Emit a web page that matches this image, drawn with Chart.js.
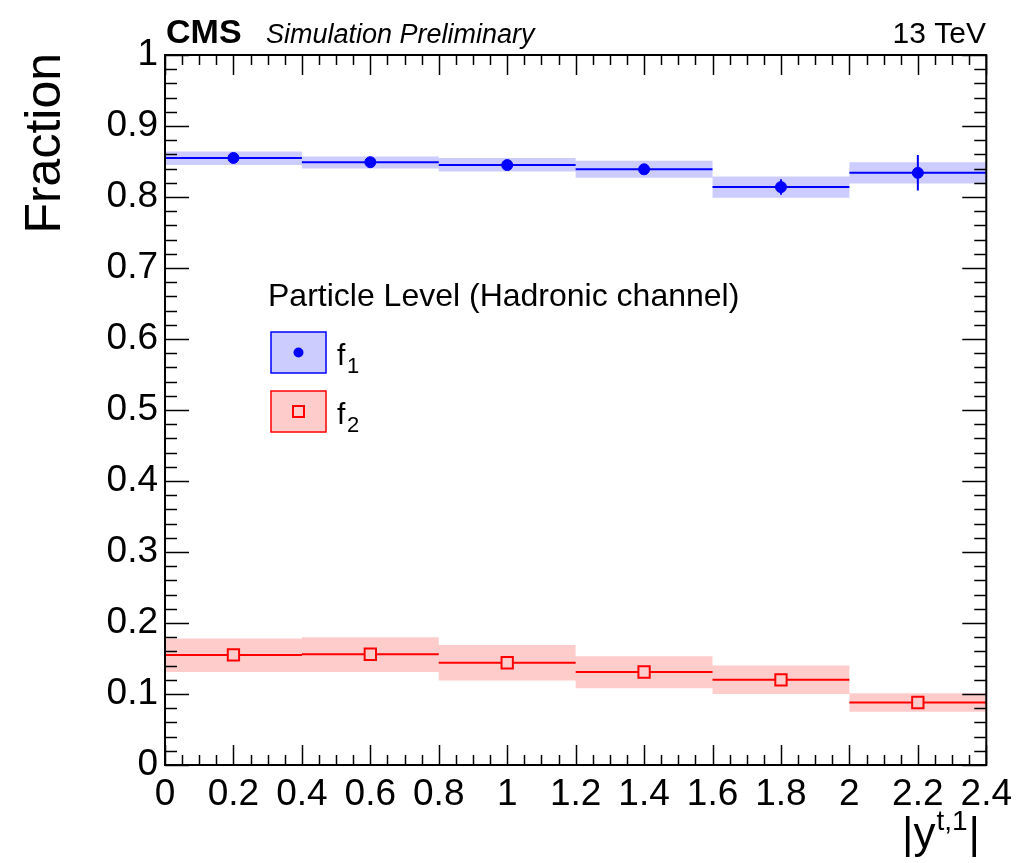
<!DOCTYPE html>
<html><head><meta charset="utf-8">
<script src="https://cdn.jsdelivr.net/npm/chart.js@4/dist/chart.umd.min.js"></script>
<style>html,body{margin:0;padding:0;background:#fff}#wrap{width:1020px;height:863px}</style>
</head><body><div id="wrap"><canvas id="c" width="1020" height="863"></canvas></div>
<script>
// ---- data ----
const binEdges   = [0, 0.4, 0.8, 1.2, 1.6, 2.0, 2.4];
const binCenters = [0.2, 0.6, 1.0, 1.4, 1.8, 2.2];
const f1Values   = [0.855, 0.849, 0.845, 0.839, 0.814, 0.834];
const f1StatLow  = [0.852, 0.846, 0.842, 0.836, 0.803, 0.809];
const f1StatHigh = [0.858, 0.852, 0.848, 0.842, 0.825, 0.859];
const f1BandLow  = [0.845, 0.840, 0.836, 0.827, 0.799, 0.819];
const f1BandHigh = [0.864, 0.857, 0.855, 0.851, 0.829, 0.849];
const f2Values   = [0.155, 0.156, 0.144, 0.131, 0.120, 0.088];
const f2StatLow  = [0.152, 0.153, 0.141, 0.128, 0.117, 0.085];
const f2StatHigh = [0.158, 0.159, 0.147, 0.134, 0.123, 0.091];
const f2BandLow  = [0.131, 0.131, 0.119, 0.108, 0.100, 0.075];
const f2BandHigh = [0.178, 0.180, 0.169, 0.153, 0.140, 0.101];
const xTickValues = [0, 0.2, 0.4, 0.6, 0.8, 1.0, 1.2, 1.4, 1.6, 1.8, 2.0, 2.2, 2.4];
const xTickLabels = ["0","0.2","0.4","0.6","0.8","1","1.2","1.4","1.6","1.8","2","2.2","2.4"];
const yTickValues = [0, 0.1, 0.2, 0.3, 0.4, 0.5, 0.6, 0.7, 0.8, 0.9, 1.0];
const yTickLabels = ["0","0.1","0.2","0.3","0.4","0.5","0.6","0.7","0.8","0.9","1"];
const seriesNames = ["f1", "f2"];

// ---- helpers building library data from arrays ----
function stepBand(vals){ const d=[]; vals.forEach((v,i)=>{ d.push({x:binEdges[i],y:v},{x:binEdges[i+1],y:v}); }); return d; }
function hSegs(vals){ const d=[]; vals.forEach((v,i)=>{ d.push({x:binEdges[i],y:v},{x:binEdges[i+1],y:v},{x:binEdges[i+1],y:null}); }); return d; }
function vSegs(lo,hi){ const d=[]; lo.forEach((v,i)=>{ d.push({x:binCenters[i],y:v},{x:binCenters[i],y:hi[i]},{x:binCenters[i],y:null}); }); return d; }
function pts(vals){ return vals.map((v,i)=>({x:binCenters[i], y:v})); }

const BLUE='#0000ff', RED='#ff0000', BLUEF='rgba(0,0,255,0.2)', REDF='rgba(255,0,0,0.2)';
const FONT='"Liberation Sans", Arial, Helvetica, sans-serif';

const datasets = [
  {label:'f1 band hi', data:stepBand(f1BandHigh), borderWidth:0, pointRadius:0, fill:false, order:5},
  {label:'f1 band lo', data:stepBand(f1BandLow), borderWidth:0, pointRadius:0, fill:'-1', backgroundColor:BLUEF, order:5},
  {label:'f2 band hi', data:stepBand(f2BandHigh), borderWidth:0, pointRadius:0, fill:false, order:5},
  {label:'f2 band lo', data:stepBand(f2BandLow), borderWidth:0, pointRadius:0, fill:'-1', backgroundColor:REDF, order:5},
  {label:'f1 xerr', data:hSegs(f1Values), borderColor:BLUE, borderWidth:2, pointRadius:0, spanGaps:false, fill:false, order:3},
  {label:'f1 yerr', data:vSegs(f1StatLow,f1StatHigh), borderColor:BLUE, borderWidth:2, pointRadius:0, spanGaps:false, fill:false, order:3},
  {label:'f2 xerr', data:hSegs(f2Values), borderColor:RED, borderWidth:2, pointRadius:0, spanGaps:false, fill:false, order:3},
  {label:'f2 yerr', data:vSegs(f2StatLow,f2StatHigh), borderColor:RED, borderWidth:2, pointRadius:0, spanGaps:false, fill:false, order:3},
  {label:seriesNames[0], data:pts(f1Values), showLine:false, pointStyle:'circle', pointRadius:5.5, pointBackgroundColor:BLUE, pointBorderColor:BLUE, pointBorderWidth:1, order:1},
  {label:seriesNames[1], data:pts(f2Values), showLine:false, pointStyle:'rect', pointRadius:8, pointBackgroundColor:'#ffcccc', pointBorderColor:RED, pointBorderWidth:2, order:1}
];

const decor = {
  id:'decor',
  afterDatasetsDraw(chart){
    const ctx=chart.ctx, a=chart.chartArea, xs=chart.scales.x, ys=chart.scales.y;
    ctx.save();
    ctx.strokeStyle='#000'; ctx.lineWidth=1.5;
    ctx.beginPath();
    for(let k=0;k<=48;k++){
      const v=k*0.05, px=Math.round(xs.getPixelForValue(v))+0.5;
      const L=(k%4===0)?20:10;
      ctx.moveTo(px,a.bottom); ctx.lineTo(px,a.bottom-L);
      ctx.moveTo(px,a.top); ctx.lineTo(px,a.top+L);
    }
    for(let k=0;k<=50;k++){
      const v=k*0.02, py=Math.round(ys.getPixelForValue(v))+0.5;
      const L=(k%5===0)?24:12;
      ctx.moveTo(a.left,py); ctx.lineTo(a.left+L,py);
      ctx.moveTo(a.right,py); ctx.lineTo(a.right-L,py);
    }
    ctx.stroke();
    ctx.lineWidth=2;
    ctx.strokeRect(a.left,a.top,a.right-a.left,a.bottom-a.top);

    ctx.fillStyle='#000'; ctx.textBaseline='alphabetic';
    ctx.font='bold 34px '+FONT; ctx.textAlign='left';
    ctx.fillText('CMS', 166, 43);
    ctx.font='italic 27px '+FONT;
    ctx.fillText('Simulation Preliminary', 266, 43);
    ctx.font='30px '+FONT; ctx.textAlign='right';
    ctx.fillText('13 TeV', 986, 43);

    ctx.save();
    ctx.translate(60,53); ctx.rotate(-Math.PI/2);
    ctx.font='50px '+FONT; ctx.textAlign='right';
    ctx.fillText('Fraction',0,0);
    ctx.restore();

    ctx.textAlign='left';
    ctx.font='44px '+FONT; const w1=ctx.measureText('|y').width, w3=ctx.measureText('|').width;
    ctx.font='28px '+FONT; const w2=ctx.measureText('t,1').width;
    let x0=980-(w1+w2+w3+2);
    ctx.font='44px '+FONT; ctx.fillText('|y',x0,848);
    ctx.font='28px '+FONT; ctx.fillText('t,1',x0+w1+1,830);
    ctx.font='44px '+FONT; ctx.fillText('|',x0+w1+w2+2,848);

    ctx.font='32px '+FONT;
    ctx.fillText('Particle Level (Hadronic channel)', 268, 306);
    const boxes=[{y:332,fill:BLUEF,stroke:BLUE,name:'f',sub:'1'},{y:391,fill:REDF,stroke:RED,name:'f',sub:'2'}];
    boxes.forEach((b,i)=>{
      ctx.fillStyle=b.fill; ctx.fillRect(271,b.y,55,41);
      ctx.strokeStyle=b.stroke; ctx.lineWidth=1.5; ctx.strokeRect(271,b.y,55,41);
      const cy=b.y+20.5;
      if(i===0){ ctx.fillStyle=BLUE; ctx.beginPath(); ctx.arc(298.5,cy,5,0,Math.PI*2); ctx.fill(); }
      else { ctx.strokeStyle=RED; ctx.lineWidth=2; ctx.strokeRect(293,cy-5.5,11,11); }
      ctx.fillStyle='#000';
      ctx.font='30px '+FONT; ctx.fillText(b.name,337,b.y+33);
      ctx.font='22px '+FONT; ctx.fillText(b.sub,347,b.y+41);
    });
    ctx.restore();
  }
};

new Chart(document.getElementById('c'), {
  type:'line',
  data:{datasets},
  plugins:[decor],
  options:{
    responsive:false, animation:false, devicePixelRatio:1,
    layout:{padding:{left:0, top:55, right:32, bottom:0}},
    plugins:{legend:{display:false}, tooltip:{enabled:false}, filler:{propagate:false}},
    elements:{line:{tension:0}},
    scales:{
      x:{type:'linear', min:0, max:2.4,
         grid:{display:false, drawTicks:false}, border:{display:false},
         afterBuildTicks:s=>{ s.ticks = xTickValues.map(v=>({value:v})); },
         afterFit:s=>{ s.height=98; },
         ticks:{autoSkip:false, maxRotation:0, minRotation:0, padding:8, color:'#000', font:{family:FONT,size:37},
                callback:(v,i)=>xTickLabels[i]}},
      y:{type:'linear', min:0, max:1,
         grid:{display:false, drawTicks:false}, border:{display:false},
         afterBuildTicks:s=>{ s.ticks = yTickValues.map(v=>({value:v})); },
         afterFit:s=>{ s.width=165; },
         ticks:{autoSkip:false, padding:7, color:'#000', font:{family:FONT,size:37},
                callback:(v,i)=>yTickLabels[i]}}
    }
  }
});
</script></body></html>
